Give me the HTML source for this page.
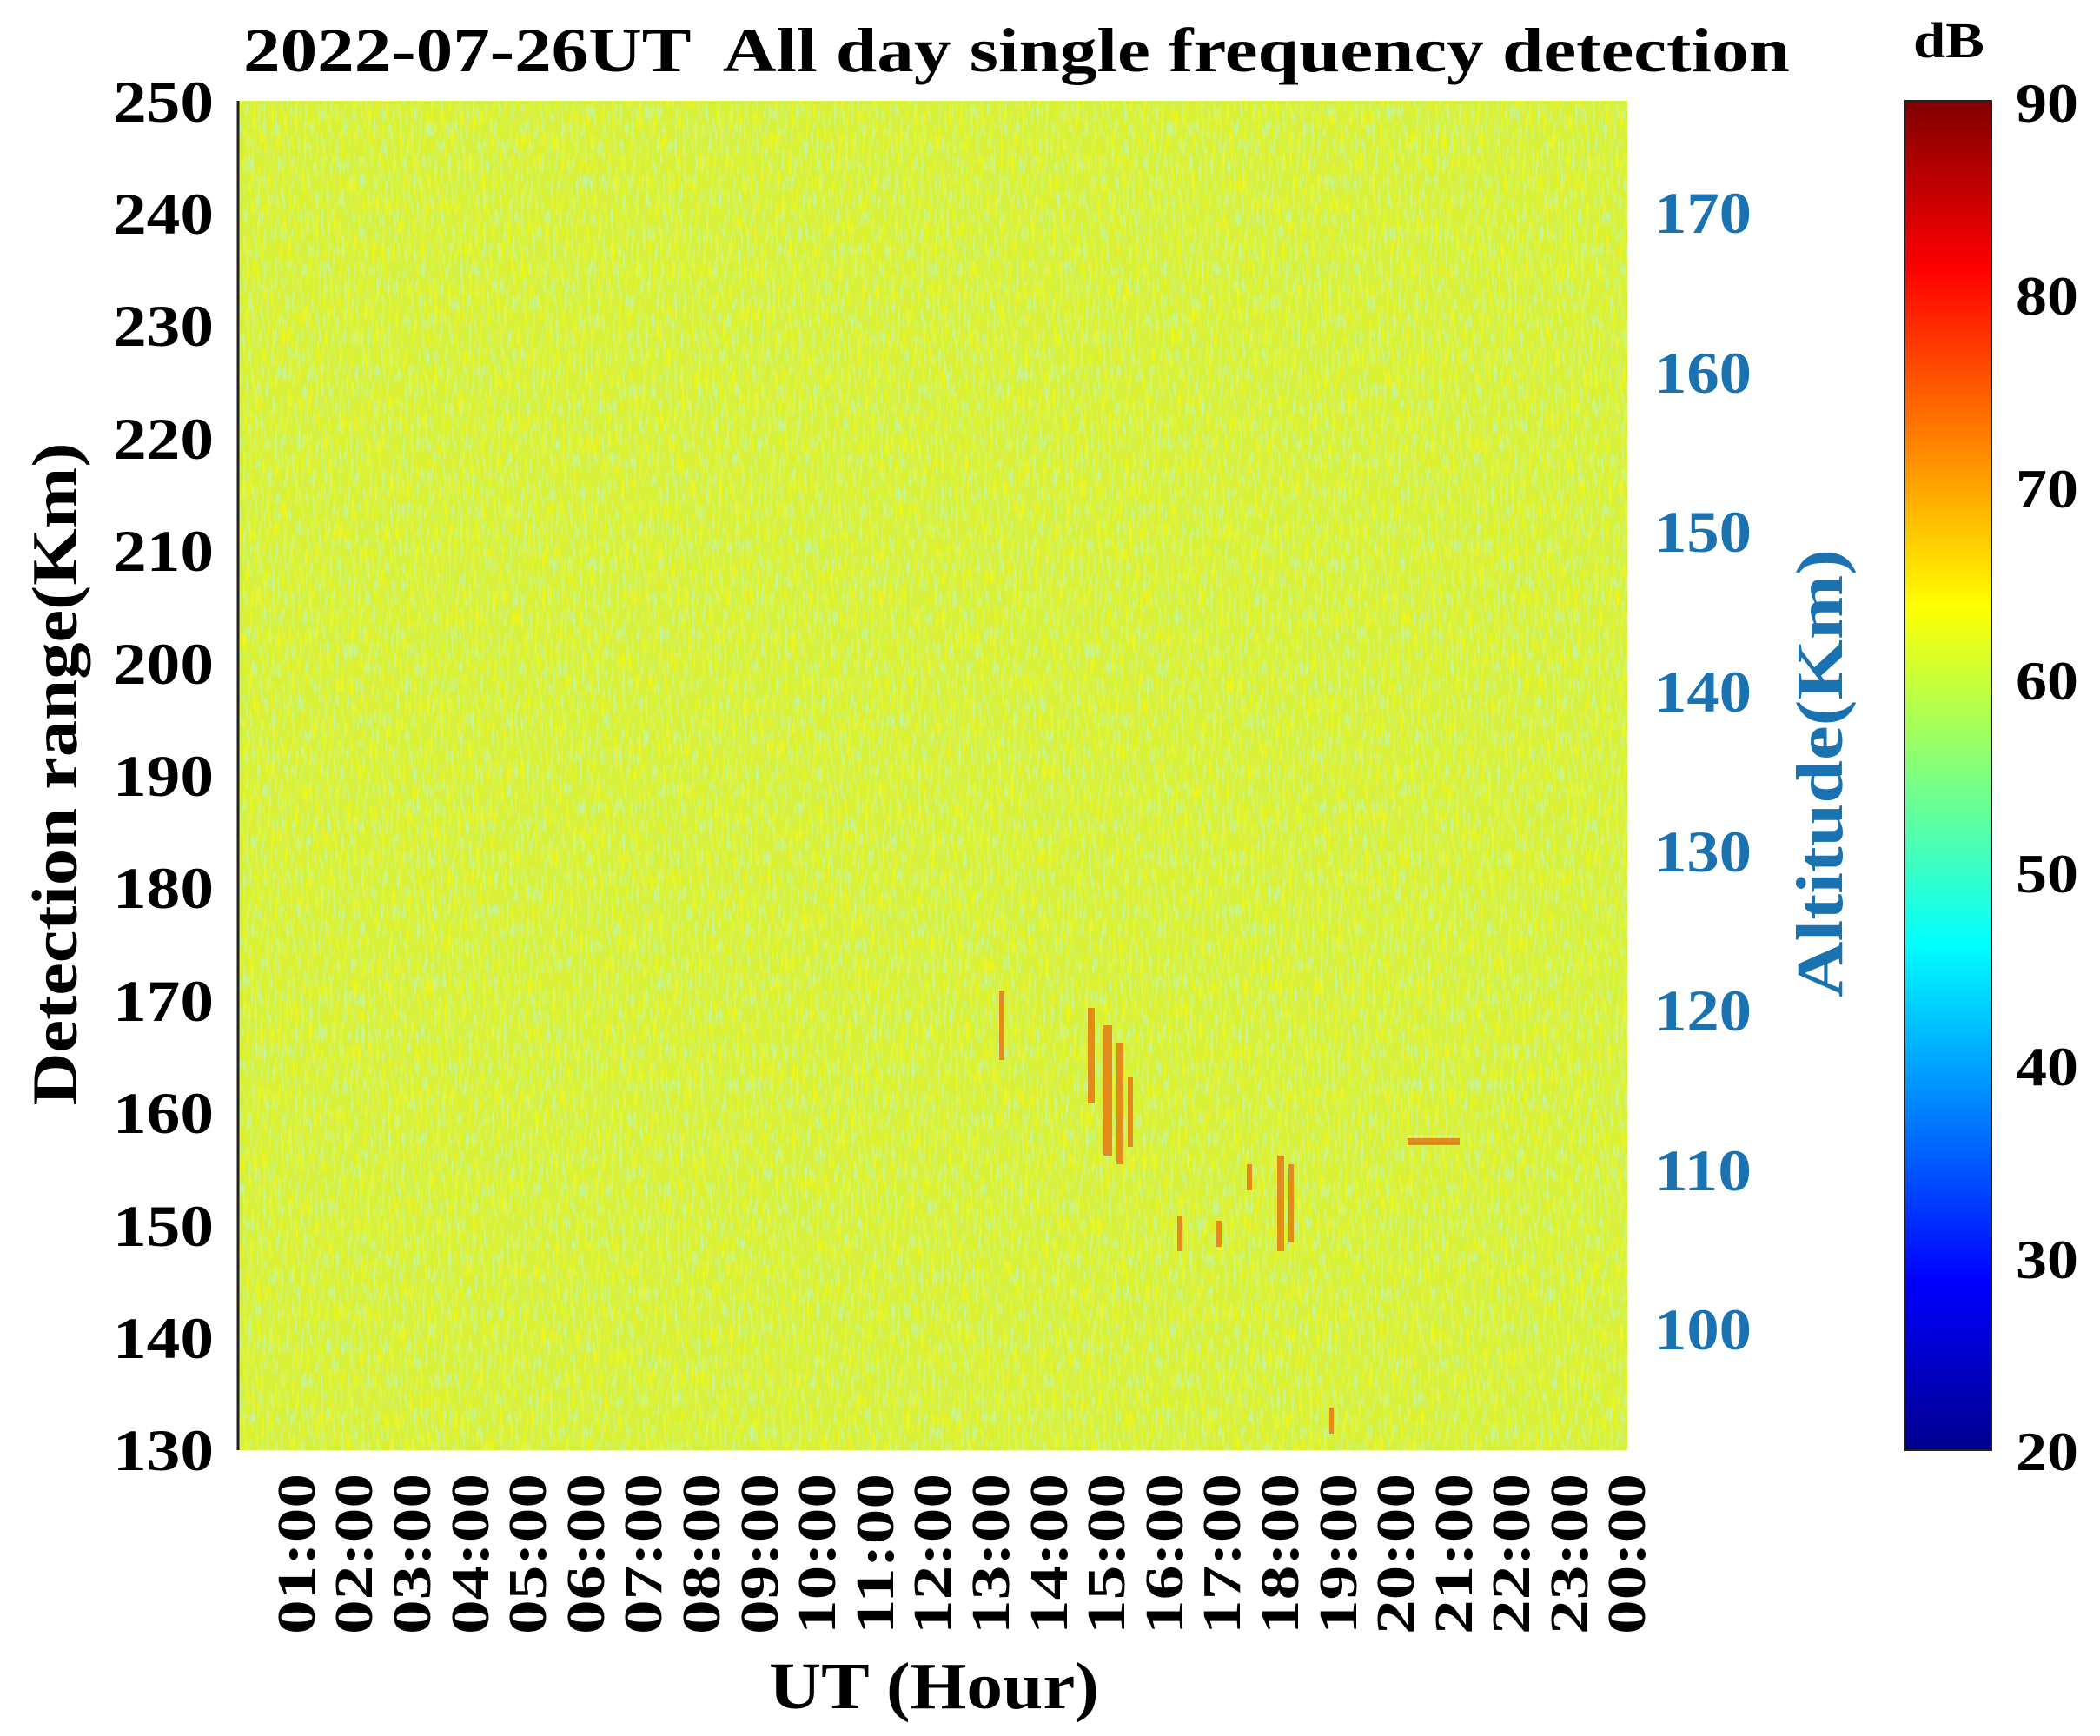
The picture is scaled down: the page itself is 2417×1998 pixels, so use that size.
<!DOCTYPE html>
<html><head><meta charset="utf-8"><style>
html,body{margin:0;padding:0;background:#fff}
svg{display:block}
text{font-family:"Liberation Serif","Times New Roman",Times,serif;font-weight:bold}
</style></head><body>
<svg width="2417" height="1998" viewBox="0 0 2417 1998" xmlns="http://www.w3.org/2000/svg" font-family="Liberation Serif, serif">
<defs>
<linearGradient id="jet" x1="0" y1="1" x2="0" y2="0">
<stop offset="0" stop-color="#00008f"/>
<stop offset="0.125" stop-color="#0000ff"/>
<stop offset="0.375" stop-color="#00ffff"/>
<stop offset="0.625" stop-color="#ffff00"/>
<stop offset="0.875" stop-color="#ff0000"/>
<stop offset="1" stop-color="#800000"/>
</linearGradient>
<filter id="noise" x="0" y="0" width="100%" height="100%">
<feTurbulence type="fractalNoise" baseFrequency="0.3 0.05" numOctaves="2" seed="3" result="t"/>
<feColorMatrix in="t" type="matrix" values="0 0 0 0 0.5  0 0 0 0 0.92  0 0 0 0 0.6  0 0 0 3 -1.4"/>
</filter>
<filter id="noise2" x="0" y="0" width="100%" height="100%">
<feTurbulence type="fractalNoise" baseFrequency="0.25 0.04" numOctaves="2" seed="11" result="t"/>
<feColorMatrix in="t" type="matrix" values="0 0 0 0 1  0 0 0 0 0.95  0 0 0 0 0  0 0 0 3 -1.5"/>
</filter>
</defs>
<rect x="274" y="116" width="1599" height="1553" fill="#d8f036"/>
<rect x="274" y="116" width="1599" height="1553" filter="url(#noise)" opacity="0.8"/>
<rect x="274" y="116" width="1599" height="1553" filter="url(#noise2)" opacity="0.7"/>
<g fill="#e8600a" opacity="0.7">
<rect x="1150" y="1140" width="6" height="80"/>
<rect x="1252" y="1160" width="8" height="110"/>
<rect x="1270" y="1180" width="10" height="150"/>
<rect x="1285" y="1200" width="8" height="140"/>
<rect x="1298" y="1240" width="6" height="80"/>
<rect x="1355" y="1400" width="6" height="40"/>
<rect x="1400" y="1405" width="6" height="30"/>
<rect x="1470" y="1330" width="8" height="110"/>
<rect x="1483" y="1340" width="6" height="90"/>
<rect x="1435" y="1340" width="6" height="30"/>
<rect x="1620" y="1310" width="60" height="8"/>
<rect x="1530" y="1620" width="5" height="30"/>
</g>
<path d="M274,116 V1669" stroke="#222" stroke-width="3"/>
<g font-size="68" text-anchor="end" fill="#000">
<text x="246" y="140" textLength="116" lengthAdjust="spacingAndGlyphs">250</text>
<text x="246" y="269" textLength="116" lengthAdjust="spacingAndGlyphs">240</text>
<text x="246" y="398" textLength="116" lengthAdjust="spacingAndGlyphs">230</text>
<text x="246" y="528" textLength="116" lengthAdjust="spacingAndGlyphs">220</text>
<text x="246" y="657" textLength="116" lengthAdjust="spacingAndGlyphs">210</text>
<text x="246" y="787" textLength="116" lengthAdjust="spacingAndGlyphs">200</text>
<text x="246" y="916" textLength="116" lengthAdjust="spacingAndGlyphs">190</text>
<text x="246" y="1045" textLength="116" lengthAdjust="spacingAndGlyphs">180</text>
<text x="246" y="1175" textLength="116" lengthAdjust="spacingAndGlyphs">170</text>
<text x="246" y="1304" textLength="116" lengthAdjust="spacingAndGlyphs">160</text>
<text x="246" y="1434" textLength="116" lengthAdjust="spacingAndGlyphs">150</text>
<text x="246" y="1563" textLength="116" lengthAdjust="spacingAndGlyphs">140</text>
<text x="246" y="1692" textLength="116" lengthAdjust="spacingAndGlyphs">130</text>
</g>
<text transform="translate(88,891) rotate(-90)" font-size="74" text-anchor="middle" textLength="763" lengthAdjust="spacingAndGlyphs">Detection range(Km)</text>
<g font-size="68" fill="#1a72b0">
<text x="1904" y="268" textLength="112" lengthAdjust="spacingAndGlyphs">170</text>
<text x="1904" y="452" textLength="112" lengthAdjust="spacingAndGlyphs">160</text>
<text x="1904" y="635" textLength="112" lengthAdjust="spacingAndGlyphs">150</text>
<text x="1904" y="819" textLength="112" lengthAdjust="spacingAndGlyphs">140</text>
<text x="1904" y="1003" textLength="112" lengthAdjust="spacingAndGlyphs">130</text>
<text x="1904" y="1186" textLength="112" lengthAdjust="spacingAndGlyphs">120</text>
<text x="1904" y="1370" textLength="112" lengthAdjust="spacingAndGlyphs">110</text>
<text x="1904" y="1553" textLength="112" lengthAdjust="spacingAndGlyphs">100</text>
</g>
<text transform="translate(2120,890) rotate(-90)" font-size="76" text-anchor="middle" fill="#1a72b0" textLength="516" lengthAdjust="spacingAndGlyphs">Altitude(Km)</text>
<text x="280" y="82" font-size="72" textLength="1780" lengthAdjust="spacingAndGlyphs" xml:space="preserve">2022-07-26UT  All day single frequency detection</text>
<g font-size="62" text-anchor="end" fill="#000">
<text transform="translate(362,1696) rotate(-90)" textLength="185" lengthAdjust="spacingAndGlyphs">01:00</text>
<text transform="translate(428,1696) rotate(-90)" textLength="185" lengthAdjust="spacingAndGlyphs">02:00</text>
<text transform="translate(495,1696) rotate(-90)" textLength="185" lengthAdjust="spacingAndGlyphs">03:00</text>
<text transform="translate(562,1696) rotate(-90)" textLength="185" lengthAdjust="spacingAndGlyphs">04:00</text>
<text transform="translate(628,1696) rotate(-90)" textLength="185" lengthAdjust="spacingAndGlyphs">05:00</text>
<text transform="translate(695,1696) rotate(-90)" textLength="185" lengthAdjust="spacingAndGlyphs">06:00</text>
<text transform="translate(761,1696) rotate(-90)" textLength="185" lengthAdjust="spacingAndGlyphs">07:00</text>
<text transform="translate(828,1696) rotate(-90)" textLength="185" lengthAdjust="spacingAndGlyphs">08:00</text>
<text transform="translate(895,1696) rotate(-90)" textLength="185" lengthAdjust="spacingAndGlyphs">09:00</text>
<text transform="translate(961,1696) rotate(-90)" textLength="185" lengthAdjust="spacingAndGlyphs">10:00</text>
<text transform="translate(1028,1696) rotate(-90)" textLength="185" lengthAdjust="spacingAndGlyphs">11:00</text>
<text transform="translate(1094,1696) rotate(-90)" textLength="185" lengthAdjust="spacingAndGlyphs">12:00</text>
<text transform="translate(1161,1696) rotate(-90)" textLength="185" lengthAdjust="spacingAndGlyphs">13:00</text>
<text transform="translate(1228,1696) rotate(-90)" textLength="185" lengthAdjust="spacingAndGlyphs">14:00</text>
<text transform="translate(1294,1696) rotate(-90)" textLength="185" lengthAdjust="spacingAndGlyphs">15:00</text>
<text transform="translate(1361,1696) rotate(-90)" textLength="185" lengthAdjust="spacingAndGlyphs">16:00</text>
<text transform="translate(1427,1696) rotate(-90)" textLength="185" lengthAdjust="spacingAndGlyphs">17:00</text>
<text transform="translate(1494,1696) rotate(-90)" textLength="185" lengthAdjust="spacingAndGlyphs">18:00</text>
<text transform="translate(1561,1696) rotate(-90)" textLength="185" lengthAdjust="spacingAndGlyphs">19:00</text>
<text transform="translate(1627,1696) rotate(-90)" textLength="185" lengthAdjust="spacingAndGlyphs">20:00</text>
<text transform="translate(1694,1696) rotate(-90)" textLength="185" lengthAdjust="spacingAndGlyphs">21:00</text>
<text transform="translate(1760,1696) rotate(-90)" textLength="185" lengthAdjust="spacingAndGlyphs">22:00</text>
<text transform="translate(1827,1696) rotate(-90)" textLength="185" lengthAdjust="spacingAndGlyphs">23:00</text>
<text transform="translate(1893,1696) rotate(-90)" textLength="185" lengthAdjust="spacingAndGlyphs">00:00</text>
</g>
<text x="1075" y="1966" font-size="76" text-anchor="middle" textLength="380" lengthAdjust="spacingAndGlyphs">UT (Hour)</text>
<rect x="2192" y="116" width="100" height="1553" fill="url(#jet)" stroke="#222" stroke-width="2"/>
<text x="2243" y="66" font-size="58" text-anchor="middle" textLength="82" lengthAdjust="spacingAndGlyphs">dB</text>
<g font-size="64" fill="#000">
<text x="2320" y="140" textLength="72" lengthAdjust="spacingAndGlyphs">90</text>
<text x="2320" y="362" textLength="72" lengthAdjust="spacingAndGlyphs">80</text>
<text x="2320" y="584" textLength="72" lengthAdjust="spacingAndGlyphs">70</text>
<text x="2320" y="805" textLength="72" lengthAdjust="spacingAndGlyphs">60</text>
<text x="2320" y="1027" textLength="72" lengthAdjust="spacingAndGlyphs">50</text>
<text x="2320" y="1249" textLength="72" lengthAdjust="spacingAndGlyphs">40</text>
<text x="2320" y="1471" textLength="72" lengthAdjust="spacingAndGlyphs">30</text>
<text x="2320" y="1692" textLength="72" lengthAdjust="spacingAndGlyphs">20</text>
</g>
</svg>
</body></html>
